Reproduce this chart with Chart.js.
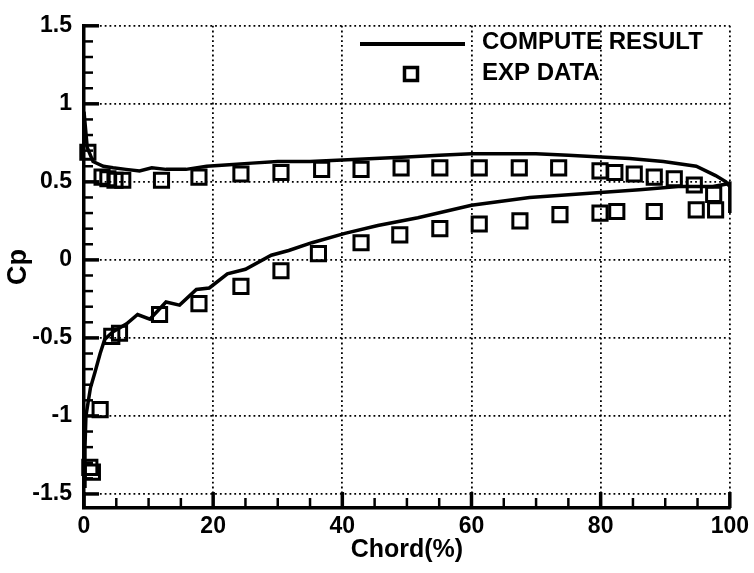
<!DOCTYPE html>
<html>
<head>
<meta charset="utf-8">
<script src="https://cdn.jsdelivr.net/npm/chart.js@4/dist/chart.umd.min.js"></script>
<style>
  html, body { margin: 0; padding: 0; background: #fff; }
  #wrap { width: 754px; height: 573px; }
</style>
</head>
<body>
<div id="wrap"><canvas id="c" width="754" height="573"></canvas></div>
<script>
// ---- data ----
const xTicks = [0, 20, 40, 60, 80, 100];
const yTicks = [-1.5, -1, -0.5, 0, 0.5, 1, 1.5];

const upperX = [0, 0.5, 1.4, 3, 4.5, 6.5, 8.6, 10.5, 12.7, 15.8, 19, 22.5, 26, 30, 35, 40, 45, 50, 55, 60, 65, 70, 75, 80, 84.5, 89.7, 94.8, 97.8, 99.4, 100];
const upperY = [0.95, 0.72, 0.63, 0.6, 0.59, 0.58, 0.57, 0.59, 0.58, 0.58, 0.6, 0.61, 0.62, 0.63, 0.63, 0.64, 0.65, 0.66, 0.67, 0.68, 0.68, 0.68, 0.67, 0.66, 0.65, 0.63, 0.6, 0.54, 0.5, 0.47];

const lowerX = [0, 0.15, 0.3, 1, 1.7, 2.5, 3.2, 4.5, 6.6, 8.3, 10.2, 12.7, 14.8, 17.4, 19.4, 22.2, 25, 29, 31.7, 35.3, 40.4, 45.5, 51.7, 60, 69, 79.4, 86, 92, 97.4, 100, 100];
const lowerY = [-1.45, -1.2, -1.0, -0.82, -0.72, -0.6, -0.51, -0.46, -0.41, -0.35, -0.38, -0.27, -0.29, -0.19, -0.18, -0.09, -0.06, 0.03, 0.06, 0.11, 0.17, 0.22, 0.27, 0.35, 0.4, 0.43, 0.45, 0.47, 0.47, 0.49, 0.3];

const expUpperX = [0.6, 2.8, 3.7, 4.8, 6.0, 12.0, 17.8, 24.3, 30.5, 36.8, 42.9, 49.1, 55.1, 61.2, 67.4, 73.5, 79.9, 82.2, 85.2, 88.3, 91.4, 94.5, 97.5];
const expUpperY = [0.69, 0.53, 0.52, 0.51, 0.51, 0.51, 0.53, 0.55, 0.56, 0.58, 0.58, 0.59, 0.59, 0.59, 0.59, 0.59, 0.57, 0.56, 0.55, 0.53, 0.52, 0.48, 0.42];

const expLowerX = [0.9, 1.3, 2.5, 4.3, 5.5, 11.7, 17.8, 24.3, 30.5, 36.3, 42.9, 48.9, 55.1, 61.2, 67.5, 73.7, 79.9, 82.5, 88.3, 94.8, 97.8];
const expLowerY = [-1.33, -1.36, -0.96, -0.49, -0.47, -0.35, -0.28, -0.17, -0.07, 0.04, 0.11, 0.16, 0.2, 0.23, 0.25, 0.29, 0.3, 0.31, 0.31, 0.32, 0.32];

const legendLabels = ['COMPUTE RESULT', 'EXP DATA'];
const xTitle = 'Chord(%)';
const yTitle = 'Cp';

// ---- build ----
const pts = (xs, ys) => xs.map((x, i) => ({ x: x, y: ys[i] }));
const FONT = "'Liberation Sans', Arial, Helvetica, sans-serif";

const lineStyle = {
  type: 'line', borderColor: '#000', borderWidth: 3.5, pointRadius: 0,
  fill: false, tension: 0, clip: false
};
const expStyle = {
  type: 'scatter', showLine: false, pointStyle: 'rect', pointRadius: 10,
  pointBorderWidth: 3, pointBorderColor: '#000', pointBackgroundColor: 'rgba(0,0,0,0)',
  borderColor: '#000', backgroundColor: 'rgba(0,0,0,0)', clip: false
};

const minorTicks = {
  id: 'minorTicks',
  afterDatasetsDraw(chart) {
    const ctx = chart.ctx, xs = chart.scales.x, ys = chart.scales.y, a = chart.chartArea;
    ctx.save();
    ctx.strokeStyle = '#000';
    ctx.lineCap = 'butt';
    for (let i = 0; i <= 20; i++) {
      const v = i * 5;
      const px = xs.getPixelForValue(v);
      const major = (i % 4 === 0);
      ctx.lineWidth = major ? 3.5 : 2.5;
      ctx.beginPath();
      ctx.moveTo(px, a.bottom);
      ctx.lineTo(px, a.bottom - (major ? 16 : 10));
      ctx.stroke();
    }
    for (let i = 0; i <= 30; i++) {
      const v = -1.5 + i * 0.1;
      const py = ys.getPixelForValue(v);
      const major = (i % 5 === 0);
      ctx.lineWidth = major ? 3.5 : 2.5;
      ctx.beginPath();
      ctx.moveTo(a.left, py);
      ctx.lineTo(a.left + (major ? 15 : 9), py);
      ctx.stroke();
    }
    ctx.restore();
  }
};

const legendPlugin = {
  id: 'insideLegend',
  afterDraw(chart) {
    const ctx = chart.ctx;
    ctx.save();
    ctx.strokeStyle = '#000';
    ctx.fillStyle = '#000';
    ctx.lineWidth = 4;
    ctx.beginPath();
    ctx.moveTo(360, 44);
    ctx.lineTo(465, 44);
    ctx.stroke();
    ctx.lineWidth = 3.5;
    ctx.strokeRect(404.5, 67.5, 13, 13);
    ctx.font = 'bold 24px ' + FONT;
    ctx.textBaseline = 'middle';
    ctx.textAlign = 'left';
    ctx.fillText(legendLabels[0], 482, 42);
    ctx.fillText(legendLabels[1], 482, 73);
    ctx.restore();
  }
};

new Chart(document.getElementById('c'), {
  data: {
    datasets: [
      Object.assign({ label: legendLabels[0], data: pts(upperX, upperY) }, lineStyle),
      Object.assign({ label: legendLabels[0] + ' lower', data: pts(lowerX, lowerY) }, lineStyle),
      Object.assign({ label: legendLabels[1], data: pts(expUpperX, expUpperY) }, expStyle),
      Object.assign({ label: legendLabels[1] + ' lower', data: pts(expLowerX, expLowerY) }, expStyle)
    ]
  },
  options: {
    responsive: false,
    devicePixelRatio: 1,
    animation: false,
    layout: { padding: { top: 15, right: 20, left: 0, bottom: 0 } },
    plugins: { legend: { display: false }, tooltip: { enabled: false } },
    scales: {
      x: {
        type: 'linear', min: 0, max: 100,
        afterBuildTicks: s => { s.ticks = xTicks.map(v => ({ value: v })); },
        afterFit: s => { s.height = 65; },
        grid: { color: '#000', lineWidth: 1.8, drawTicks: false },
        border: { display: true, color: '#000', width: 3.5, dash: [1.8, 3] },
        ticks: { color: '#000', padding: 5, maxRotation: 0, font: { family: FONT, size: 23, weight: 'bold' } },
        title: { display: true, text: xTitle, color: '#000', padding: { top: 0, bottom: 8 },
                 font: { family: FONT, size: 25, weight: 'bold' } }
      },
      y: {
        type: 'linear', min: -1.59, max: 1.5,
        afterBuildTicks: s => { s.ticks = yTicks.map(v => ({ value: v })); },
        afterFit: s => { s.width = 84; },
        grid: { color: '#000', lineWidth: 1.8, drawTicks: false },
        border: { display: true, color: '#000', width: 3.5, dash: [1.8, 3] },
        ticks: { color: '#000', padding: 12, font: { family: FONT, size: 23, weight: 'bold' },
                 callback: v => String(v) },
        title: { display: true, text: yTitle, color: '#000', padding: { top: 2, bottom: 0 },
                 font: { family: FONT, size: 27, weight: 'bold' } }
      }
    }
  },
  plugins: [minorTicks, legendPlugin]
});
</script>
</body>
</html>
